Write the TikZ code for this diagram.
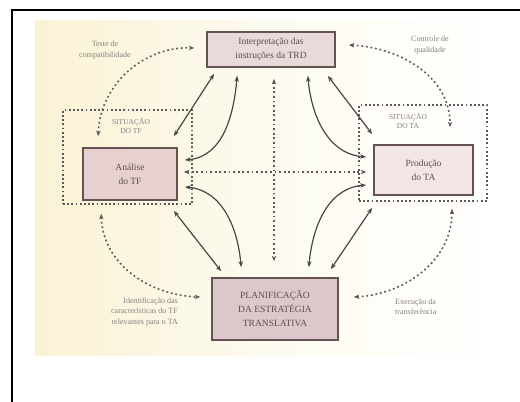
\documentclass[tikz,border=0pt]{standalone}
\usepackage{fontspec}
\setmainfont{Liberation Serif}
\usetikzlibrary{arrows.meta,calc}
\definecolor{cream}{HTML}{FAF2D4}
\definecolor{creammid}{HTML}{FDFBF0}
\definecolor{boxline}{HTML}{665252}
\definecolor{boxtext}{HTML}{5E4E4E}
\definecolor{labeltext}{HTML}{858080}
\definecolor{arrowc}{HTML}{4A4646}
\definecolor{dotc}{HTML}{5E5858}
\definecolor{fillA}{HTML}{EAD9D9}
\definecolor{fillB}{HTML}{E6D0D0}
\definecolor{fillC}{HTML}{F2E5E5}
\definecolor{fillD}{HTML}{DCC8CB}
\tikzset{
  box/.style={draw=boxline, line width=1.7pt, text=boxtext, align=center, inner sep=0pt},
  sitbox/.style={draw=dotc, line width=1.3pt, dash pattern=on 1.8pt off 2.4pt, inner sep=0pt},
  lbl/.style={text=labeltext, font=\fontsize{8}{10.5}\selectfont, inner sep=0pt},
  sitlbl/.style={text=labeltext, font=\fontsize{7.5}{9.5}\selectfont, align=center, inner sep=0pt},
  biarrow/.style={draw=arrowc, line width=1.2pt, {Stealth[length=6pt,width=4.5pt]}-{Stealth[length=6pt,width=4.5pt]}},
  dotarrow/.style={draw=dotc, line width=1.6pt, dash pattern=on 1.8pt off 2.8pt, {Stealth[length=5.5pt,width=4.5pt]}-{Stealth[length=5.5pt,width=4.5pt]}}
}
\begin{document}
\begin{tikzpicture}[x=1pt,y=-1pt]
\useasboundingbox (0,0) rectangle (520,402);
\fill[white] (0,0) rectangle (520,402);
% photo background
\shade[left color=cream, right color=white, middle color=creammid, shading angle=90] (35,20) rectangle (505,355);
% frame
\draw[black, line width=2pt] (12,402) -- (12,10) -- (520,10);

% situation areas
\node[sitbox, minimum width=129pt, minimum height=94pt] (sitTF) at (127.5,157) {};
\node[sitbox, minimum width=128pt, minimum height=96pt] (sitTA) at (423,153) {};
\node[sitlbl] (sitTFl) at (131,126) {SITUAÇÃO\\DO TF};
\node[sitlbl] (sitTAl) at (408,121) {SITUAÇÃO\\DO TA};

% main boxes
\node[box, fill=fillA, minimum width=128pt, minimum height=35pt, font=\fontsize{9.5}{14}\selectfont] (interp) at (271,49.5) {Interpretação das\\instruções da TRD};
\node[box, fill=fillB, minimum width=94pt, minimum height=52pt, font=\fontsize{9.5}{14}\selectfont] (analise) at (130,174) {Análise\\do TF};
\node[box, fill=fillC, minimum width=99pt, minimum height=50pt, font=\fontsize{9.5}{14}\selectfont] (producao) at (423.5,170) {Produção\\do TA};
\node[box, fill=fillD, minimum width=126pt, minimum height=62pt, font=\fontsize{9.5}{14}\selectfont] (plan) at (275,309) {PLANIFICAÇÃO\\DA ESTRATÉGIA\\TRANSLATIVA};

% labels
\node[lbl, align=center] (teste) at (105,50) {Teste de\\compatibilidade};
\node[lbl, align=center] (controle) at (430,45) {Controle de\\qualidade};
\node[lbl, align=right, anchor=east] (ident) at (178,312) {Identificação das\\características do TF\\relevantes para o TA};
\node[lbl, align=left, anchor=west] (exec) at (395,307) {Execução da\\transferência};

% solid connectors
\draw[biarrow] ($(interp.south west)+(8,6)$) -- ($(analise.north east)+(-4,-11)$);
\draw[biarrow] ($(interp.south west)+(31,8)$) to[out=-95,in=5] ($(analise.east)+(7,-14)$);
\draw[biarrow] ($(interp.south east)+(-28,8)$) to[out=-85,in=175] ($(producao.west)+(-7,-13)$);
\draw[biarrow] ($(interp.south east)+(-8,8)$) -- ($(producao.north west)+(-1,-10)$);
\draw[biarrow] ($(analise.east)+(7,13)$) to[out=-5,in=95] ($(plan.north west)+(30,-10)$);
\draw[biarrow] ($(analise.south east)+(-4,10)$) -- ($(plan.north west)+(10,-6)$);
\draw[biarrow] ($(producao.west)+(-7,15)$) to[out=185,in=85] ($(plan.north east)+(-30,-10)$);
\draw[biarrow] ($(producao.south west)+(-1,12)$) -- ($(plan.north east)+(-8,-8)$);

% dotted connectors
\draw[dotarrow] ($(interp.south)+(3,11)$) -- ($(plan.north)+(-1,-16)$);
\draw[dotarrow] ($(analise.east)+(6,-2)$) -- ($(producao.west)+(-7,2)$);
\draw[dotarrow] ($(analise.north west)+(16,-11)$) to[out=88,in=178] ($(interp.west)+(-12,-1.5)$);
\draw[dotarrow] ($(interp.east)+(13,-4.5)$) to[out=-3,in=90] ($(producao.north)+(26.5,-17)$);
\draw[dotarrow] ($(analise.south west)+(19,13)$) to[out=-88,in=178] ($(plan.west)+(-11,-12)$);
\draw[dotarrow] ($(plan.east)+(15,-12)$) to[out=3,in=-90] ($(producao.south)+(28.5,13)$);
\end{tikzpicture}
\end{document}
